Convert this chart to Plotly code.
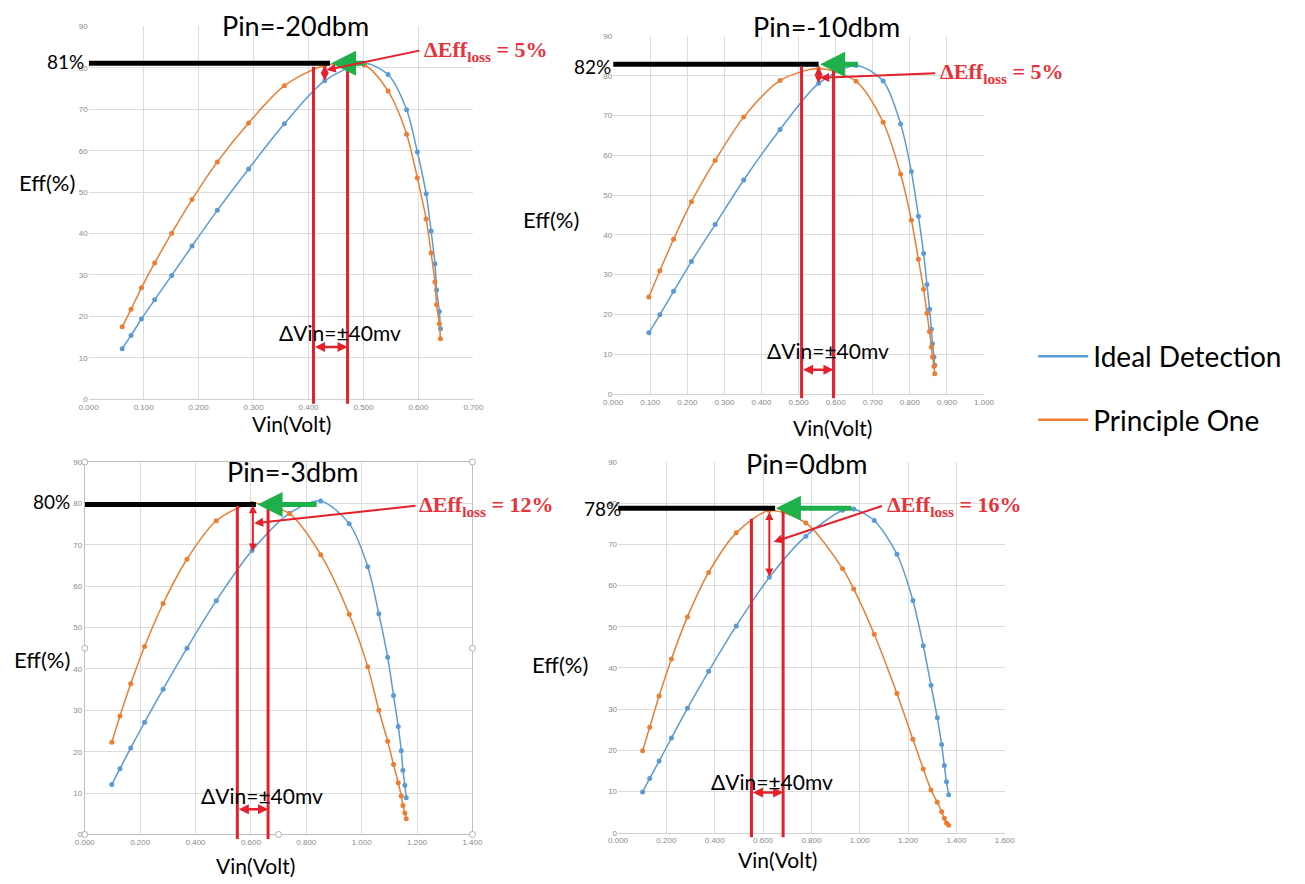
import plotly.graph_objects as go

W, H = 1305, 884

# ---------------- data ----------------
vin_m20 = [0.061, 0.077, 0.096, 0.120, 0.151, 0.188, 0.234, 0.291, 0.356, 0.4295,
           0.5015, 0.5447, 0.5785, 0.598, 0.614, 0.623, 0.630, 0.633, 0.638, 0.640]
ideal_m20 = [12.2, 15.4, 19.4, 24.0, 29.9, 37.0, 45.6, 55.6, 66.5, 76.9,
             81.1, 78.4, 69.9, 59.7, 49.6, 40.6, 32.7, 26.4, 21.2, 17.0]
princ_m20 = [17.5, 21.7, 26.9, 32.9, 40.1, 48.2, 57.3, 66.7, 75.7, 80.6,
             80.7, 74.4, 64.0, 53.4, 43.5, 35.3, 28.3, 22.8, 18.2, 14.6]

vin_m10 = [0.0963, 0.126, 0.163, 0.211, 0.275, 0.352, 0.450, 0.554, 0.655, 0.728,
           0.775, 0.804, 0.823, 0.837, 0.846, 0.853, 0.858, 0.861, 0.865, 0.867]
ideal_m10 = [15.4, 19.9, 25.8, 33.3, 42.6, 53.8, 66.5, 78.1, 82.6, 78.7,
             67.9, 55.9, 44.7, 35.3, 27.5, 21.3, 16.3, 12.6, 9.3, 7.2]
princ_m10 = [24.4, 31.0, 38.9, 48.3, 58.7, 69.6, 78.8, 81.8, 78.6, 68.3,
             55.3, 43.7, 33.9, 26.3, 20.3, 15.7, 11.8, 9.3, 7.0, 5.1]

vin_m3 = [0.0977, 0.127, 0.166, 0.216, 0.283, 0.369, 0.475, 0.604, 0.739, 0.852,
          0.955, 1.022, 1.062, 1.094, 1.115, 1.132, 1.143, 1.149, 1.156, 1.161]
ideal_m3 = [12.1, 15.9, 20.9, 27.1, 35.1, 45.0, 56.5, 68.6, 77.6, 80.6,
            75.1, 64.7, 53.3, 42.8, 33.6, 26.1, 20.2, 15.5, 11.9, 8.9]
princ_m3 = [22.3, 28.6, 36.4, 45.4, 55.8, 66.5, 75.8, 80.0, 77.5, 67.6,
            53.2, 40.5, 30.0, 22.5, 16.9, 12.5, 9.3, 7.0, 5.2, 3.8]

vin_0 = [0.1016, 0.131, 0.170, 0.221, 0.287, 0.375, 0.489, 0.626, 0.777, 0.929,
         0.975, 1.060, 1.154, 1.220, 1.263, 1.295, 1.321, 1.339, 1.350, 1.359, 1.368]
ideal_0 = [9.9, 13.2, 17.4, 23.0, 30.2, 39.2, 50.2, 62.0, 72.0, 78.3,
           78.6, 75.8, 67.6, 56.4, 45.4, 35.8, 27.9, 21.4, 16.3, 12.4, 9.2]
princ_0 = [19.9, 25.6, 33.2, 42.2, 52.4, 63.2, 72.8, 78.2, 75.2, 64.1,
           59.2, 48.2, 33.8, 22.7, 15.5, 10.4, 7.4, 5.1, 3.5, 2.4, 1.8]

series_names = ["Ideal Detection", "Principle One"]
titles = ["Pin=-20dbm", "Pin=-10dbm", "Pin=-3dbm", "Pin=0dbm"]
x_max = [0.7, 1.0, 1.4, 1.6]
x_dtick = [0.1, 0.1, 0.2, 0.2]
y_max = 90
peak_label = ["81%", "82%", "80%", "78%"]
peak_level = [81.1, 82.9, 79.7, 78.8]
loss_label = ["5%", "5%", "12%", "16%"]
dvin_label = "ΔVin=±40mv"

# annotation geometry in data units
black_end = [0.439, 0.554, 0.618, 0.650]
green_tail = [0.505, 0.664, 0.843, 0.972]
green_head = [0.441, 0.558, 0.624, 0.653]
win_left = [0.409, 0.508, 0.551, 0.552]
win_left_top = [80.3, 82.3, 79.4, 76.2]
win_right = [0.471, 0.594, 0.662, 0.683]
win_right_top = [81.0, 81.8, 78.7, 78.6]
loss_x = [0.4295, 0.554, 0.607, 0.626]
loss_top = [81.0, 82.6, 79.9, 78.2]
loss_bottom = [76.9, 78.1, 68.4, 62.2]
pointer_x = [0.433, 0.558, 0.612, 0.644]
pointer_y = [79.5, 79.5, 75.2, 70.6]
dvin_y = [12.6, 6.1, 6.1, 9.75]

# ---------------- layout geometry (pixels) ----------------
boxes = [(80, 471, 22.7, 399.3), (613, 990, 32.3, 394.0),
         (76, 470, 462.7, 839.0), (618, 1011, 462.7, 837.3)]
title_pos = [(290, 22), (830, 23), (287, 472), (810, 464)]
eff_pos = [(38, 180), (550, 218), (33, 662), (559, 667)]
vin_pos = [(286, 424), (836, 428), (250, 870), (780, 864)]
pct_pos = [(56, 58), (592, 63), (42, 503), (602, 510)]
loss_text_pos = [(419, 47), (943, 70), (414, 507), (889, 507)]
dvin_text_pos = [(335, 332), (831, 350), (256, 800), (774, 785)]

BLUE = "#5B9BD5"
ORANGE = "#ED7D31"
RED = "#E5202A"
LOSS_RED = "#E8323A"
GREEN = "#1DB04B"
GRID = "#DCDCDC"
TICK = "#8A8A8A"
TXT_FONT = "Lato"


def px_x(p):
    return p / W


def px_y(p):
    return 1 - p / H


def data_to_px(i, x, y):
    x0, x1, y0, y1 = boxes[i]
    return x0 + x / x_max[i] * (x1 - x0), y1 - y / y_max * (y1 - y0)


data = [(vin_m20, ideal_m20, princ_m20), (vin_m10, ideal_m10, princ_m10),
        (vin_m3, ideal_m3, princ_m3), (vin_0, ideal_0, princ_0)]

fig = go.Figure()
layout = dict(width=W, height=H, margin=dict(l=0, r=0, t=0, b=0),
              paper_bgcolor="white", plot_bgcolor="white",
              font=dict(family=TXT_FONT, color="black"))
annotations = []
shapes = []

for i in range(4):
    sfx = "" if i == 0 else str(i + 1)
    xa, ya = "x" + sfx, "y" + sfx
    x0, x1, y0, y1 = boxes[i]
    framed = (i == 2)
    layout["xaxis" + sfx] = dict(
        domain=[px_x(x0), px_x(x1)], anchor=ya, range=[0, x_max[i]], dtick=x_dtick[i],
        tickformat=".3f", showgrid=True, gridcolor=GRID, gridwidth=1, zeroline=False,
        showline=True, linecolor="#BFBFBF" if framed else "#D0D0D0", linewidth=1,
        mirror=framed, ticks="", tickfont=dict(family="Liberation Sans", size=8, color=TICK),
        fixedrange=True)
    layout["yaxis" + sfx] = dict(
        domain=[px_y(y1), px_y(y0)], anchor=xa, range=[0, y_max], dtick=10,
        showgrid=True, gridcolor=GRID, gridwidth=1, zeroline=False,
        showline=framed, linecolor="#BFBFBF", linewidth=1, mirror=framed,
        ticks="", tickfont=dict(family="Liberation Sans", size=8, color=TICK),
        fixedrange=True)

    vin, ideal, princ = data[i]
    for vals, col in ((ideal, BLUE), (princ, ORANGE)):
        fig.add_trace(go.Scatter(
            x=vin, y=vals, xaxis=xa, yaxis=ya, mode="lines+markers",
            line=dict(color=col, width=1.5, shape="spline", smoothing=0.8),
            marker=dict(color=col, size=5), showlegend=False, hoverinfo="skip"))

    # black peak-level line
    shapes.append(dict(type="line", xref=xa, yref=ya, x0=0, x1=black_end[i],
                       y0=peak_level[i], y1=peak_level[i],
                       line=dict(color="black", width=5)))
    # red vertical window lines
    for xv, top in ((win_left[i], win_left_top[i]), (win_right[i], win_right_top[i])):
        shapes.append(dict(type="line", xref=xa, yref=ya + " domain", x0=xv, x1=xv,
                           y0=-0.012, y1=top / y_max, line=dict(color=RED, width=3)))
    # green arrow
    annotations.append(dict(xref=xa, yref=ya, axref=xa, ayref=ya,
                            x=green_head[i], y=peak_level[i],
                            ax=green_tail[i], ay=peak_level[i], text="",
                            showarrow=True, arrowhead=2, arrowsize=1,
                            arrowwidth=5, arrowcolor=GREEN))
    # small vertical loss arrow
    annotations.append(dict(xref=xa, yref=ya, axref=xa, ayref=ya,
                            x=loss_x[i], y=loss_bottom[i],
                            ax=loss_x[i], ay=loss_top[i], text="",
                            showarrow=True, arrowhead=2, startarrowhead=2,
                            arrowside="end+start", arrowsize=0.8, startarrowsize=0.8,
                            arrowwidth=2, arrowcolor=RED))
    # pointer line from loss text
    tx, ty = data_to_px(i, pointer_x[i], pointer_y[i])
    lx, ly = loss_text_pos[i]
    annotations.append(dict(xref=xa, yref=ya, x=pointer_x[i], y=pointer_y[i],
                            ax=lx - 3 - tx, ay=ly - ty, axref="pixel", ayref="pixel",
                            text="", showarrow=True, arrowhead=2, arrowsize=0.9,
                            arrowwidth=2, arrowcolor=RED))
    # bottom double arrow between window lines
    annotations.append(dict(xref=xa, yref=ya, axref=xa, ayref=ya,
                            x=win_right[i], y=dvin_y[i], ax=win_left[i], ay=dvin_y[i],
                            text="", showarrow=True, arrowhead=2, startarrowhead=2,
                            arrowside="end+start", arrowsize=0.8, startarrowsize=0.8,
                            arrowwidth=2.5, arrowcolor=RED))

    # texts
    def txt(pos, text, size, **kw):
        d = dict(xref="paper", yref="paper", x=px_x(pos[0]), y=px_y(pos[1]),
                 text=text, showarrow=False, font=dict(family=TXT_FONT, size=size,
                                                       color=kw.pop("color", "black")),
                 xanchor=kw.pop("xanchor", "center"), yanchor="middle")
        d.update(kw)
        annotations.append(d)

    txt(title_pos[i], titles[i], 27)
    txt(eff_pos[i], "Eff(%)", 22)
    txt(vin_pos[i], "Vin(Volt)", 21)
    txt(pct_pos[i], peak_label[i], 19)
    txt(dvin_text_pos[i], dvin_label, 21)
    annotations.append(dict(xref="paper", yref="paper", x=px_x(loss_text_pos[i][0]),
                            y=px_y(loss_text_pos[i][1]), xanchor="left", yanchor="middle",
                            text="<b>ΔEff<sub>loss</sub> = " + loss_label[i] + "</b>",
                            showarrow=False,
                            font=dict(family="Liberation Serif", size=22, color=LOSS_RED)))

# selection handles on the framed (third) chart (top-middle one is hidden by the title)
for hx in (0, 0.5, 1):
    for hy in (0, 0.5, 1):
        if hx == 0.5 and hy in (0.5, 1):
            continue
        shapes.append(dict(type="circle", xref="x3 domain", yref="y3 domain",
                           xsizemode="pixel", ysizemode="pixel", xanchor=hx, yanchor=hy,
                           x0=-3, x1=3, y0=-3, y1=3,
                           fillcolor="white", line=dict(color="#AFAFAF", width=1)))

# legend entries
for name, col in zip(series_names, (BLUE, ORANGE)):
    fig.add_trace(go.Scatter(x=[None], y=[None], mode="lines", name=name,
                             legendgroup=name, line=dict(color=col, width=2.5),
                             showlegend=True))

layout["legend"] = dict(x=px_x(1040), y=px_y(331), xanchor="left", yanchor="top",
                        font=dict(family=TXT_FONT, size=28, color="black"),
                        bgcolor="rgba(0,0,0,0)", tracegroupgap=24, itemwidth=50,
                        traceorder="grouped")
layout["annotations"] = annotations
layout["shapes"] = shapes
fig.update_layout(**layout)

fig.write_html("out.html")
